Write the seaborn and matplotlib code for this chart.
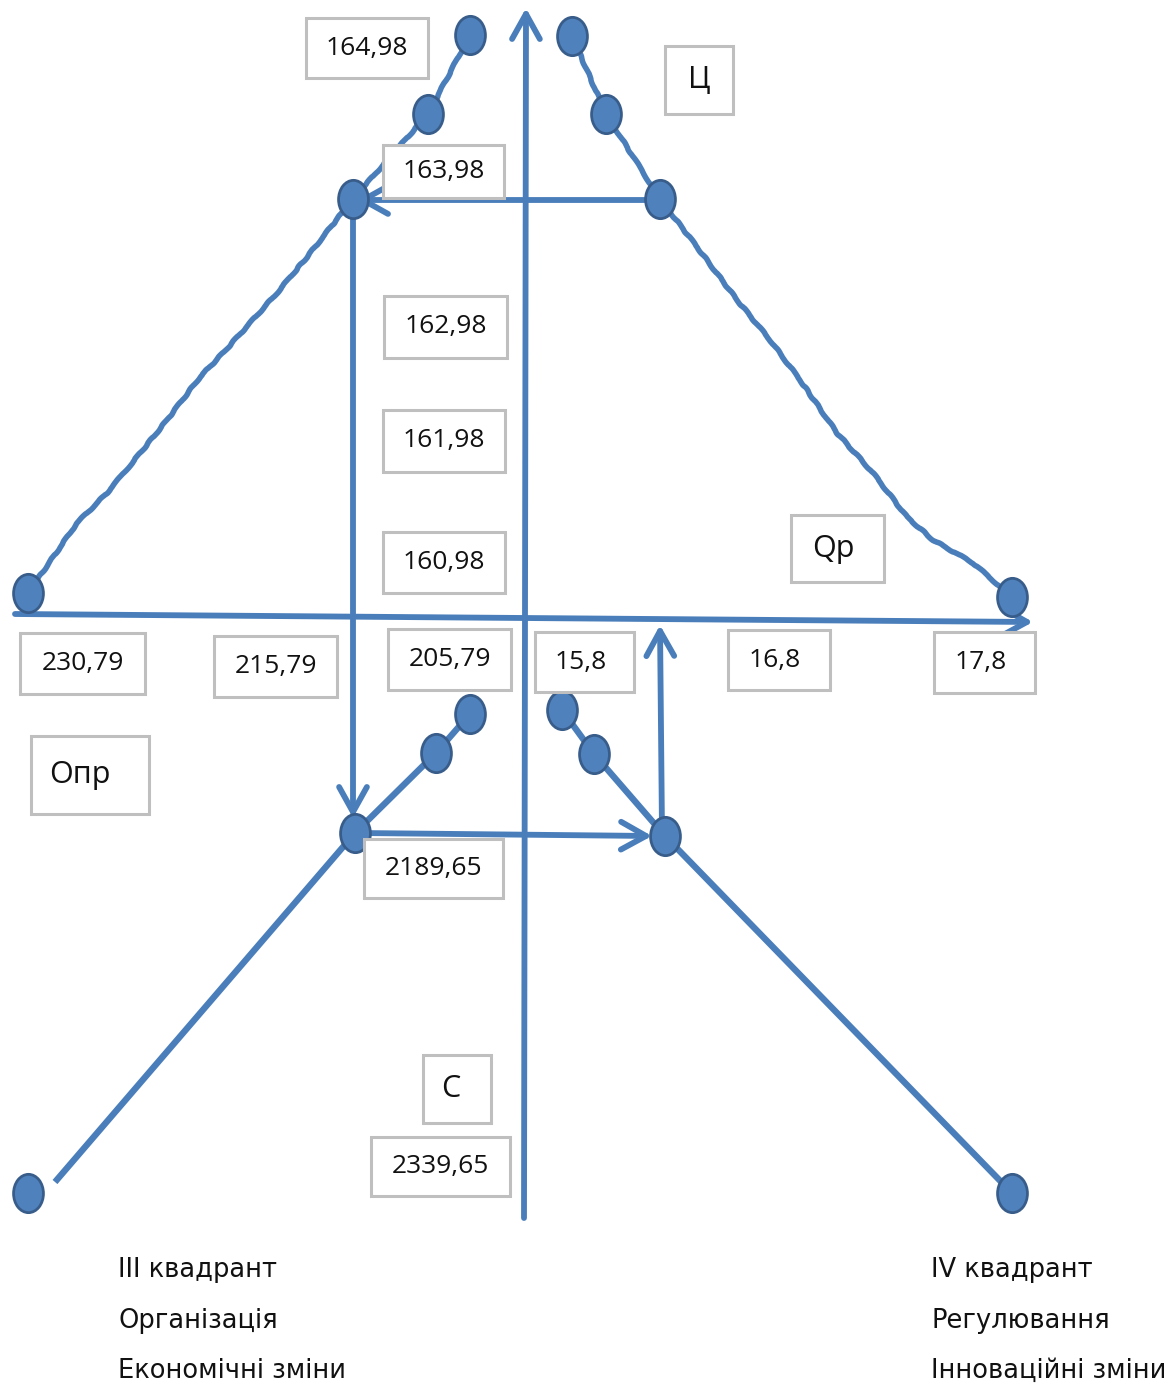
import matplotlib
matplotlib.use('Agg')
from matplotlib import pyplot as plt
from matplotlib.patches import Rectangle
from matplotlib.path import Path
from matplotlib.transforms import Affine2D
import seaborn as sns

# values shown in the diagram
price_labels = ['164,98', '163,98', '162,98', '161,98', '160,98']
opr_labels = ['230,79', '215,79', '205,79']
qp_labels = ['15,8', '16,8', '17,8']
cost_labels = ['2189,65', '2339,65']
axis_names = ['Ц', 'Qp', 'Опр', 'С']
quadrant_left = ['III квадрант', 'Організація', 'Економічні зміни']
quadrant_right = ['IV квадрант', 'Регулювання', 'Інноваційні зміни']

# curves (pixel layout, y down)
ul_x = [28, 77, 107, 137, 167, 200, 223, 250, 277, 307, 353, 428, 470]
ul_y = [593, 523, 493, 457, 420, 377, 353, 323, 293, 257, 199, 114, 35]
ur_x = [572, 606, 660, 697, 737, 770, 800, 837, 873, 907, 933, 973, 1012]
ur_y = [36, 114, 199, 247, 300, 340, 380, 433, 473, 517, 540, 563, 597]
ll_x = [55, 355, 436, 470]
ll_y = [1182, 833, 753, 714]
lr_x = [562, 594, 665, 1012]
lr_y = [710, 754, 836, 1193]
dots_x = [28, 353, 428, 470, 572, 606, 660, 1012,
          28, 355, 436, 470, 562, 594, 665, 1012]
dots_y = [593, 199, 114, 35, 36, 114, 199, 597,
          1193, 833, 753, 714, 710, 754, 836, 1193]

# label boxes: (text, left, top, width, height, fontsize)
boxes = [
    (price_labels[0], 306, 18, 122, 60, 19),
    (price_labels[1], 383, 145, 121, 53, 19),
    (price_labels[2], 384, 296, 123, 62, 19),
    (price_labels[3], 383, 410, 122, 62, 19),
    (price_labels[4], 383, 532, 122, 61, 19),
    (opr_labels[0], 20, 633, 125, 61, 19),
    (opr_labels[1], 214, 636, 123, 61, 19),
    (opr_labels[2], 388, 629, 123, 61, 19),
    (qp_labels[0], 535, 632, 99, 60, 19),
    (qp_labels[1], 728, 630, 102, 60, 19),
    (qp_labels[2], 934, 632, 101, 61, 19),
    (cost_labels[0], 364, 839, 139, 59, 19),
    (cost_labels[1], 371, 1137, 139, 59, 19),
    (axis_names[0], 665, 46, 68, 68, 22),
    (axis_names[1], 791, 515, 93, 67, 22),
    (axis_names[2], 31, 736, 118, 78, 22),
    (axis_names[3], 423, 1055, 68, 68, 22),
]
# small horizontal nudges of the text inside a box
text_dx = {'Опр': -10, 'Qp': -4, 'С': -6, '15,8': -4, '16,8': -4, '17,8': -4}

BLUE = '#4A7EBB'
DOT = '#4F81BD'
DOT_EDGE = '#385D8A'

sns.set_theme(style='white')
plt.rcParams['font.family'] = ['Open Sans', 'DejaVu Sans']

fig = plt.figure(figsize=(11.7, 13.87), dpi=100)
ax = fig.add_axes([0, 0, 1, 1])
ax.set_xlim(0, 1170)
ax.set_ylim(1387, 0)
ax.axis('off')

# axes of the diagram
arrow = dict(arrowstyle='->,head_length=0.9,head_width=0.5', lw=4.2,
             color=BLUE, shrinkA=0, shrinkB=0, mutation_scale=20)
ax.annotate('', xy=(526, 8), xytext=(524, 1218), arrowprops=arrow)
ax.annotate('', xy=(1033, 622), xytext=(15, 614), arrowprops=arrow)

# construction arrows
ax.annotate('', xy=(357, 200), xytext=(660, 200), arrowprops=arrow)
ax.annotate('', xy=(353, 818), xytext=(353, 205), arrowprops=arrow)
ax.annotate('', xy=(652, 836), xytext=(360, 833), arrowprops=arrow)
ax.annotate('', xy=(660, 625), xytext=(662, 832), arrowprops=arrow)

# curves
for xs, ys, lw, sketch in [(ul_x, ul_y, 4.0, True), (ur_x, ur_y, 4.0, True),
                           (ll_x, ll_y, 4.6, False), (lr_x, lr_y, 4.6, False)]:
    sns.lineplot(x=xs, y=ys, sort=False, estimator=None, color=BLUE,
                 lw=lw, ax=ax, solid_capstyle='butt')
    if sketch:
        ax.lines[-1].set_sketch_params(0.6, 30, 3)

ellipse = Path.unit_circle().transformed(Affine2D().scale(0.78, 1.0))
sns.scatterplot(x=dots_x, y=dots_y, marker=ellipse, s=760, color=DOT,
                edgecolor=DOT_EDGE, linewidth=2, ax=ax, zorder=5)

for text, left, top, w, h, fs in boxes:
    ax.add_patch(Rectangle((left, top), w, h, facecolor='white',
                           edgecolor='#BFBFBF', lw=2.2, zorder=6))
    ax.text(left + w / 2 + text_dx.get(text, 0), top + h / 2, text,
            ha='center', va='center', fontsize=fs, color='#111111', zorder=7)

for i, (left_txt, right_txt) in enumerate(zip(quadrant_left, quadrant_right)):
    y = 1270 + i * 50.5
    ax.text(118, y, left_txt, ha='left', va='center', fontsize=18.5,
            family=['DejaVu Sans'], color='#111111')
    ax.text(931, y, right_txt, ha='left', va='center', fontsize=18.5,
            family=['DejaVu Sans'], color='#111111')

plt.savefig('out.png', dpi=100)
plt.close()
